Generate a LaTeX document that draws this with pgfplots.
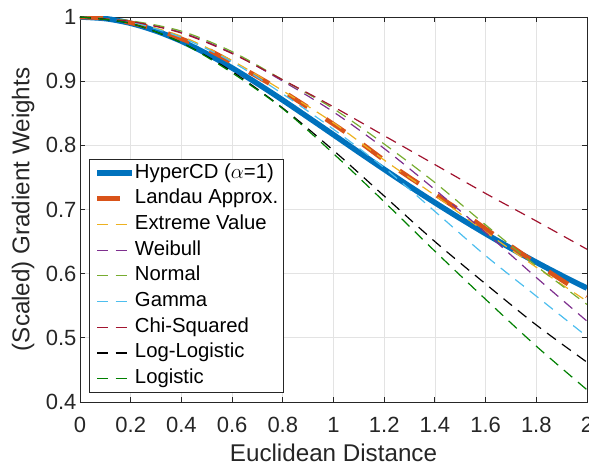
\documentclass[border=0pt]{standalone}
\usepackage{fontspec}
\setmainfont{Liberation Sans}
\usepackage{pgfplots}
\pgfplotsset{compat=1.18}

\definecolor{mblue}{rgb}{0,0.447,0.741}
\definecolor{morange}{rgb}{0.850,0.325,0.098}
\definecolor{myellow}{rgb}{0.929,0.694,0.125}
\definecolor{mpurple}{rgb}{0.494,0.184,0.556}
\definecolor{mgreen}{rgb}{0.466,0.674,0.188}
\definecolor{mcyan}{rgb}{0.301,0.745,0.933}
\definecolor{mred}{rgb}{0.635,0.078,0.184}
\definecolor{mdkgreen}{rgb}{0,0.5,0}
\definecolor{axgray}{gray}{0.15}

\begin{document}
\begin{tikzpicture}
\begin{axis}[
    scale only axis,
    width=507pt, height=385pt,
    xmin=0, xmax=2, ymin=0.4, ymax=1,
    xtick={0,0.2,...,2.01},
    ytick={0.4,0.5,...,1.01},
    grid=major,
    grid style={gray!22, line width=0.8pt},
    axis line style={axgray, line width=0.9pt},
    tick style={axgray, line width=0.9pt},
    tick align=inside,
    major tick length=5pt,
    /pgf/number format/assume math mode=true,
    tick label style={font=\fontsize{22}{26}\selectfont, text=axgray},
    xticklabel style={yshift=-12pt},
    xlabel={Euclidean Distance},
    ylabel={(Scaled) Gradient Weights},
    label style={font=\fontsize{24.2}{28}\selectfont, text=axgray},
    xlabel style={at={(axis description cs:0.5,-0.131)}, anchor=center},
    ylabel style={at={(axis description cs:-0.1124,0.5)}, anchor=center},
    legend image code/.code={\draw[#1] (0pt,0pt) -- (35pt,0pt);},
    legend cell align={left},
    legend style={at={(rel axis cs:0.0178,0.631)}, anchor=north west,
        font=\fontsize{20.3}{24}\selectfont, draw=axgray, line width=0.9pt,
        fill=white, inner sep=4pt, inner xsep=5pt, row sep=6.7pt, column sep=0pt,
        nodes={inner sep=0pt, text height=14.5pt, text depth=4.5pt}},
]
% HyperCD (alpha=1)
\addplot[mblue, line width=5.5pt, smooth] coordinates {
    (0,1) (0.1,0.9975) (0.2,0.9902) (0.3,0.9782) (0.4,0.9623) (0.5,0.9428)
    (0.6,0.9206) (0.7,0.8962) (0.8,0.8704) (0.9,0.8436) (1.0,0.8165)
    (1.1,0.7893) (1.2,0.7625) (1.3,0.7362) (1.4,0.7107) (1.5,0.6860)
    (1.6,0.6623) (1.7,0.6395) (1.8,0.6178) (1.9,0.5971) (2.0,0.5774)
};
\addlegendentry{HyperCD ($\alpha$=1)}
% Landau approximation
\addplot[morange, line width=4.5pt, dash pattern=on 23pt off 22pt, smooth] coordinates {
    (0,1) (0.1,0.998) (0.2,0.991) (0.3,0.981) (0.4,0.966) (0.5,0.950)
    (0.6,0.929) (0.7,0.907) (0.8,0.884) (0.9,0.859) (1.0,0.833)
    (1.1,0.806) (1.2,0.777) (1.3,0.750) (1.4,0.724) (1.5,0.698)
    (1.6,0.670) (1.7,0.643) (1.8,0.616) (1.9,0.590) (2.0,0.565)
};
\addlegendentry{Landau Approx.}
% Extreme Value
\addplot[myellow, line width=1.2pt, dash pattern=on 11pt off 7.5pt, smooth] coordinates {
    (0,1) (0.2,0.992) (0.4,0.970) (0.6,0.932) (0.8,0.885) (1.0,0.835)
    (1.2,0.777) (1.4,0.722) (1.6,0.665) (1.8,0.610) (2.0,0.557)
};
\addlegendentry{Extreme Value}
% Weibull
\addplot[mpurple, line width=1.2pt, dash pattern=on 11pt off 7.5pt, smooth] coordinates {
    (0,1) (0.2,0.993) (0.4,0.976) (0.6,0.944) (0.8,0.900) (1.0,0.852)
    (1.2,0.795) (1.4,0.731) (1.6,0.664) (1.8,0.594) (2.0,0.526)
};
\addlegendentry{Weibull}
% Normal
\addplot[mgreen, line width=1.2pt, dash pattern=on 11pt off 7.5pt, smooth] coordinates {
    (0,1) (0.2,0.994) (0.4,0.978) (0.6,0.946) (0.8,0.902) (1.0,0.857)
    (1.2,0.802) (1.4,0.742) (1.6,0.676) (1.8,0.612) (2.0,0.552)
};
\addlegendentry{Normal}
% Gamma
\addplot[mcyan, line width=1.2pt, dash pattern=on 11pt off 7.5pt, smooth] coordinates {
    (0,1) (0.2,0.992) (0.4,0.968) (0.6,0.930) (0.8,0.880) (1.0,0.825)
    (1.2,0.765) (1.4,0.697) (1.6,0.628) (1.8,0.565) (2.0,0.502)
};
\addlegendentry{Gamma}
% Chi-Squared
\addplot[mred, line width=1.2pt, dash pattern=on 11pt off 7.5pt, smooth] coordinates {
    (0,1) (0.2,0.993) (0.4,0.975) (0.6,0.943) (0.8,0.902) (1.0,0.860)
    (1.2,0.815) (1.4,0.770) (1.6,0.725) (1.8,0.682) (2.0,0.638)
};
\addlegendentry{Chi-Squared}
% Log-Logistic
\addplot[black, line width=1.2pt, dash pattern=on 11pt off 7.5pt, smooth] coordinates {
    (0,1) (0.2,0.990) (0.4,0.960) (0.6,0.915) (0.8,0.858) (1.0,0.792)
    (1.2,0.721) (1.4,0.650) (1.6,0.584) (1.8,0.520) (2.0,0.462)
};
\addlegendentry{Log-Logistic}
% Logistic
\addplot[mdkgreen, line width=1.2pt, dash pattern=on 11pt off 7.5pt, smooth] coordinates {
    (0,1) (0.2,0.990) (0.4,0.960) (0.6,0.913) (0.8,0.857) (1.0,0.787)
    (1.2,0.712) (1.4,0.635) (1.6,0.560) (1.8,0.487) (2.0,0.419)
};
\addlegendentry{Logistic}
\coordinate (bl) at (rel axis cs:0,0);
\coordinate (tr) at (rel axis cs:1,1);
\end{axis}
\pgfresetboundingbox
\path[use as bounding box] ([shift={(-80pt,-64pt)}]bl) rectangle ([shift={(2pt,17pt)}]tr);
\end{tikzpicture}
\end{document}
